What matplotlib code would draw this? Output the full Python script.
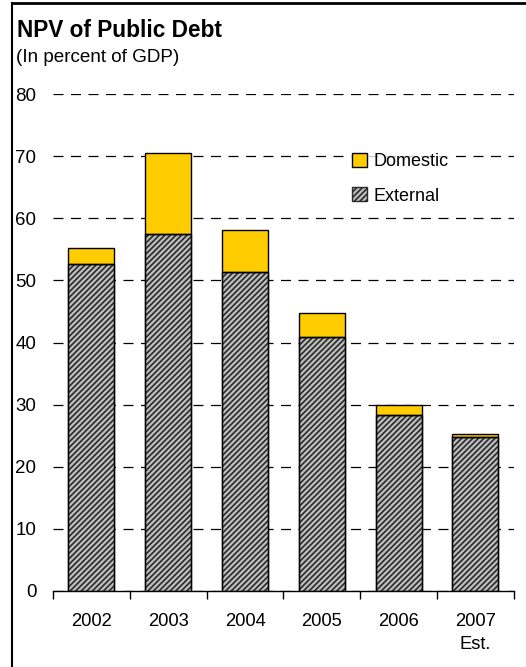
import numpy as np
import matplotlib.pyplot as plt
from matplotlib.patches import Patch
from matplotlib.lines import Line2D

plt.rcParams['font.family'] = ['Liberation Sans', 'DejaVu Sans']
plt.rcParams['hatch.linewidth'] = 1.2

# NPV of public debt, percent of GDP
years = ['2002', '2003', '2004', '2005', '2006', '2007\nEst.']
external = [52.7, 57.5, 51.4, 40.9, 28.3, 24.8]
domestic = [2.5, 13.0, 6.7, 3.9, 1.7, 0.5]

fig = plt.figure(figsize=(5.26, 6.67), dpi=100)
ax = fig.add_axes([0.1008, 0.114, 0.876, 0.745])

x = np.arange(len(years))
ax.bar(x, external, width=0.6, color='#bdbdbd', edgecolor='#2a2a2a',
       hatch='//////', linewidth=1.0, zorder=3)
ax.bar(x, external, width=0.6, color='none', edgecolor='black',
       linewidth=1.0, zorder=4)
ax.bar(x, domestic, bottom=external, width=0.6, color='#FFCC00',
       edgecolor='black', linewidth=1.0, zorder=3)

ax.set_xlim(-0.5, len(years) - 0.5)
ax.set_ylim(0, 80)
ax.set_yticks(range(0, 81, 10))
ax.yaxis.grid(True, color='black', linestyle=(0, (8, 6)), linewidth=0.9)
ax.set_axisbelow(True)

for s in ['top', 'right', 'left']:
    ax.spines[s].set_visible(False)
ax.spines['bottom'].set_linewidth(1.0)

ax.tick_params(axis='y', length=0, pad=12, labelsize=13.5)
ax.set_xticks(x)
ax.set_xticklabels(years, fontsize=13.2, linespacing=1.45)
ax.tick_params(axis='x', length=0, pad=16)
# tick marks between categories
ax.set_xticks(np.arange(-0.5, len(years), 1.0), minor=True)
ax.tick_params(axis='x', which='minor', length=6, width=1.0, direction='out')

handles = [Patch(facecolor='#FFCC00', edgecolor='black', label='Domestic'),
           Patch(facecolor='#bdbdbd', edgecolor='#2a2a2a', hatch='//////',
                 label='External')]
leg = ax.legend(handles=handles, loc='upper left',
                bbox_to_anchor=(0.626, 0.903), frameon=True, fontsize=13,
                handlelength=0.8, handleheight=0.8, handletextpad=0.4,
                labelspacing=0.95, borderpad=0.3, borderaxespad=0.3,
                fancybox=False)
leg.get_frame().set_facecolor('white')
leg.get_frame().set_edgecolor('none')
leg.set_zorder(5)

fig.text(0.032, 0.955, 'NPV of Public Debt', fontsize=16.3, fontweight='bold',
         va='center')
fig.text(0.030, 0.914, '(In percent of GDP)', fontsize=13.6, va='center')

# frame around the chart (left and top edges)
fig.add_artist(Line2D([0.023, 0.023], [0.0, 0.995], color='black', lw=1.5,
                      transform=fig.transFigure))
fig.add_artist(Line2D([0.023, 1.0], [0.995, 0.995], color='black', lw=2.0,
                      transform=fig.transFigure))

fig.savefig('out.png', dpi=100)
